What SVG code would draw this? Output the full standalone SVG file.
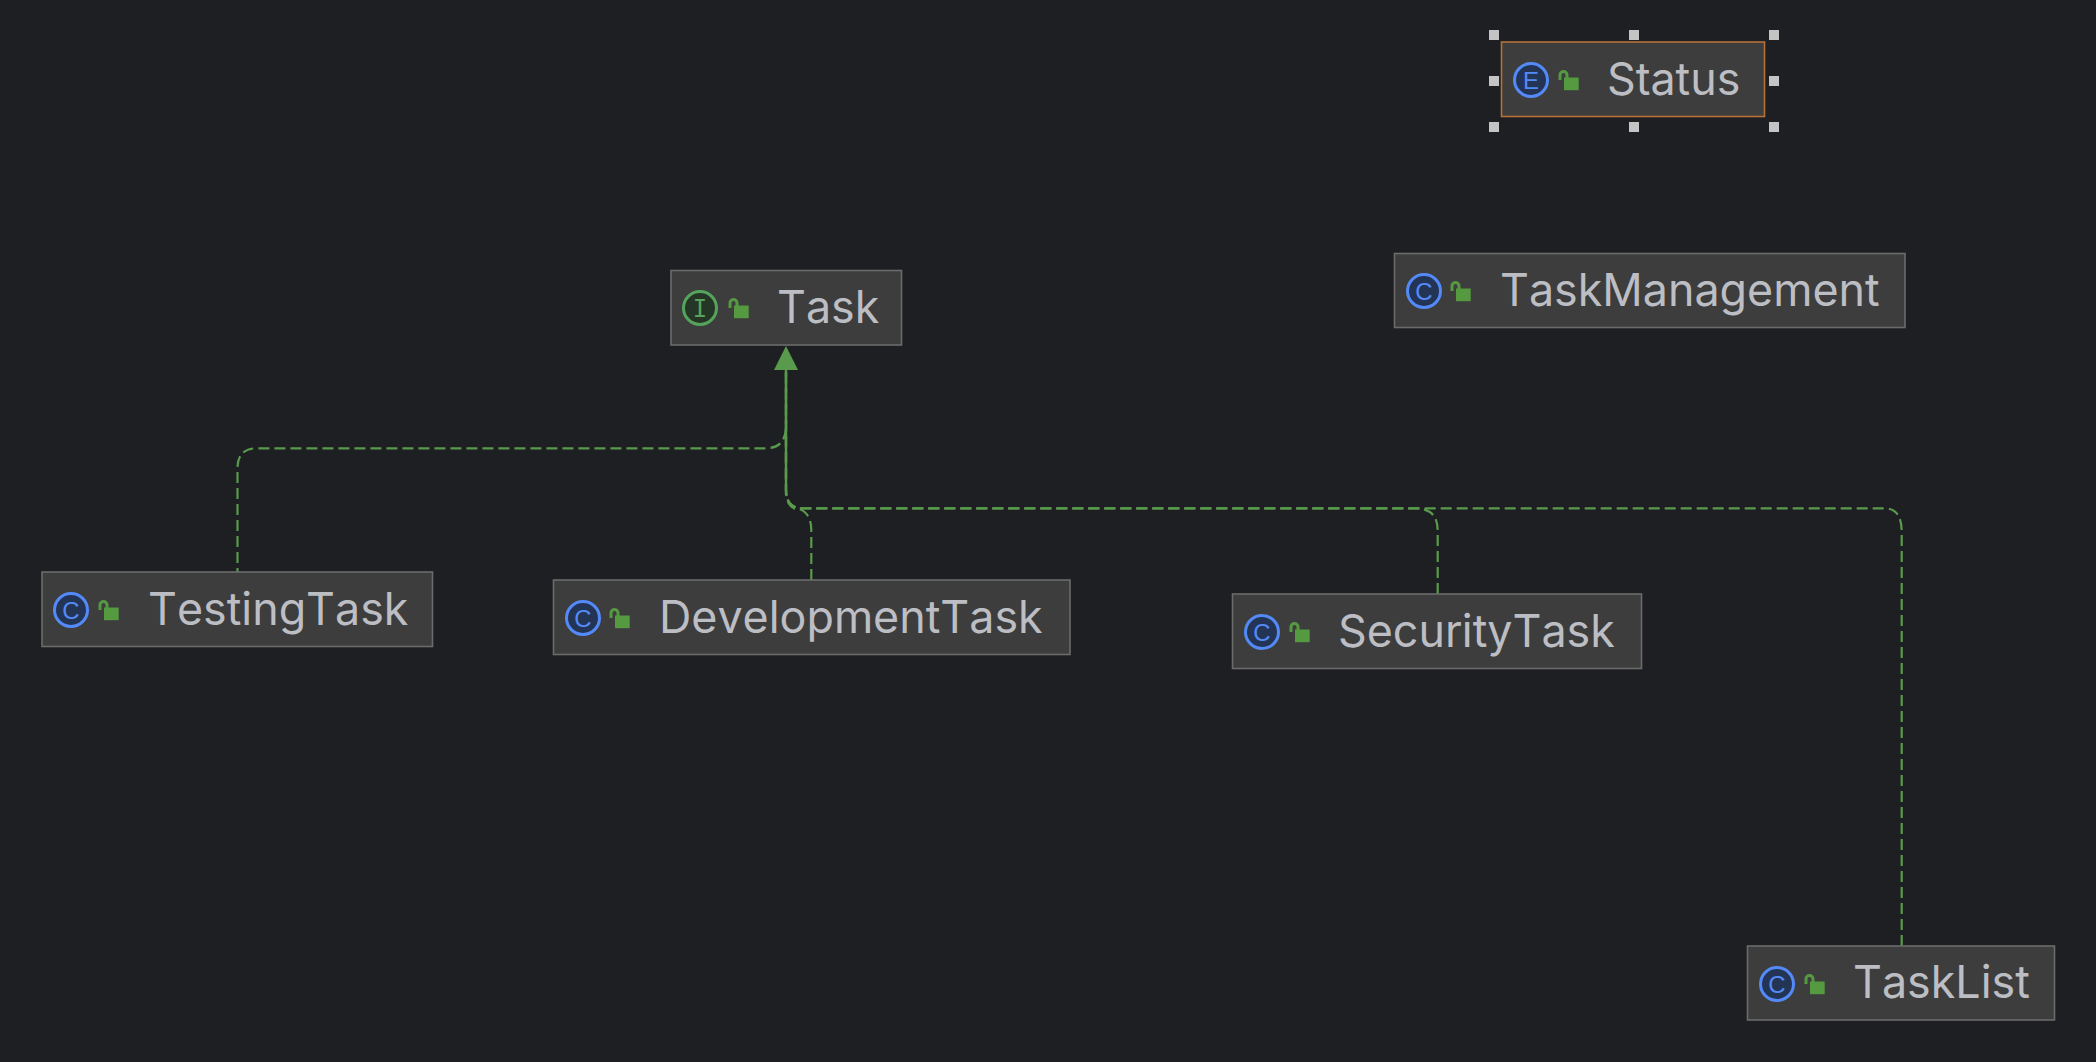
<svg xmlns="http://www.w3.org/2000/svg" width="2096" height="1062" viewBox="0 0 2096 1062">
<style>
.box{fill:#3d3d3d;stroke:#6b6b6b;stroke-width:1.6}
.lbl{font-family:Inter,"Noto Sans",sans-serif;font-size:44.8px;fill:#bcbec4;font-kerning:none;font-optical-sizing:none;font-variation-settings:"opsz" 14}
.ic{font-family:"Liberation Sans",sans-serif;font-size:24px;text-anchor:middle}
.c{fill:#233455;stroke:#548af7;stroke-width:3}
.ct{fill:#548af7}
.i{fill:#253627;stroke:#55a35c;stroke-width:3}
.it{fill:#55a35c;font-family:"DejaVu Sans Mono",monospace}
.lock{fill:#559a40}
.shackle{fill:none;stroke:#559a40;stroke-width:3}
.edge{fill:none;stroke:#5a9a4c;stroke-width:2.2;stroke-dasharray:11 5}
.h{fill:#c4c4c4}
</style>
<defs>
<g id="lk"><path class="shackle" d="M2 10V5a3.500 3.500 0 0 1 7 0V8"/><rect class="lock" x="6" y="7.500" width="14.700" height="12.700"/></g>
</defs>
<rect width="2096" height="1062" fill="#1e1f22"/>
<g id="connectors">
<path class="edge" stroke-dashoffset="7" d="M237.500 572V468C237.500 455 244 448.300 257 448.300H766C778 448.300 786 442 786 426V372"/>
<path class="edge" d="M811.300 580V530C811.300 516 804 508.300 794 508.300C789 506 786 500 786 490V372"/>
<path class="edge" d="M1437.700 594V532C1437.700 516 1432 511 1420 508.300H802C792 508.300 786 502 786 490V372"/>
<path class="edge" d="M1901.700 946V532C1901.700 516 1896 508.300 1884 508.300H802C792 508.300 786 502 786 490V372"/>
<path d="M786 495V365" fill="none" stroke="#5a9a4c" stroke-width="2.400"/>
<polygon points="786,346 798,370 774,370" fill="#5a9a4c"/>
</g>
<g id="node-status">
<rect x="1501.500" y="42" width="263" height="74.500" fill="#3d3d3d" stroke="#b5713a" stroke-width="1.600"/>
<circle class="c" cx="1531" cy="80" r="16.500"/><text class="ic ct" x="1531" y="88.500">E</text>
<use href="#lk" x="1558" y="70"/>
<text class="lbl" x="1607" y="95">Status</text>
<g class="h"><rect x="1489" y="30" width="10" height="10"/><rect x="1629" y="30" width="10" height="10"/><rect x="1769" y="30" width="10" height="10"/><rect x="1489" y="76" width="10" height="10"/><rect x="1769" y="76" width="10" height="10"/><rect x="1489" y="122" width="10" height="10"/><rect x="1629" y="122" width="10" height="10"/><rect x="1769" y="122" width="10" height="10"/></g>
</g>
<g id="node-task">
<rect class="box" x="671" y="270.500" width="230.500" height="74.500"/>
<circle class="i" cx="700" cy="308" r="16.500"/><text class="ic it" x="700" y="316.500">I</text>
<use href="#lk" x="728" y="298"/>
<text class="lbl" x="777" y="323">Task</text>
</g>
<g id="node-taskmanagement">
<rect class="box" x="1394.500" y="253.500" width="510.500" height="74"/>
<circle class="c" cx="1424" cy="291" r="16.500"/><text class="ic ct" x="1424" y="299.500">C</text>
<use href="#lk" x="1450" y="281"/>
<text class="lbl" x="1500" y="306">TaskManagement</text>
</g>
<g id="node-testingtask">
<rect class="box" x="42" y="572" width="390.500" height="74.500"/>
<circle class="c" cx="71" cy="610" r="16.500"/><text class="ic ct" x="71" y="618.500">C</text>
<use href="#lk" x="98" y="600"/>
<text class="lbl" x="148" y="625">TestingTask</text>
</g>
<g id="node-developmenttask">
<rect class="box" x="553.500" y="580" width="516.500" height="74.500"/>
<circle class="c" cx="583" cy="618" r="16.500"/><text class="ic ct" x="583" y="626.500">C</text>
<use href="#lk" x="609" y="608"/>
<text class="lbl" x="659" y="633">DevelopmentTask</text>
</g>
<g id="node-securitytask">
<rect class="box" x="1232.500" y="594" width="409" height="74.500"/>
<circle class="c" cx="1262" cy="632" r="16.500"/><text class="ic ct" x="1262" y="640.500">C</text>
<use href="#lk" x="1289" y="622"/>
<text class="lbl" x="1338" y="647">SecurityTask</text>
</g>
<g id="node-tasklist">
<rect class="box" x="1747.500" y="946" width="307" height="74"/>
<circle class="c" cx="1777" cy="984" r="16.500"/><text class="ic ct" x="1777" y="992.500">C</text>
<use href="#lk" x="1804" y="974"/>
<text class="lbl" x="1853" y="998">TaskList</text>
</g>
</svg>
